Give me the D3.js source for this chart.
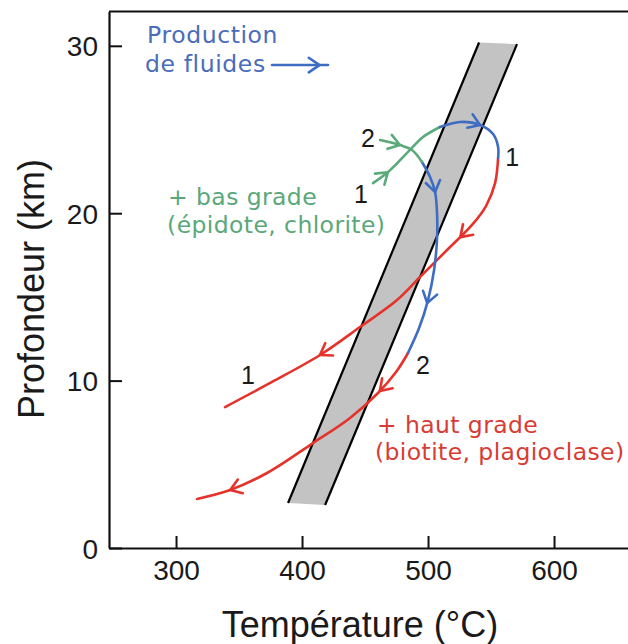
<!DOCTYPE html>
<html><head><meta charset="utf-8">
<script src="https://cdn.jsdelivr.net/npm/d3@7"></script>
<style>body{margin:0;background:#fff}svg{display:block}</style>
</head><body>
<svg id="c" width="628" height="644"></svg>
<script>
// ---------- data (Température °C, Profondeur km) ----------
const xTicks = [300, 400, 500, 600];
const yTicks = [0, 10, 20, 30];
const bandCorners = [[388.9, 2.69], [540.5, 30.2], [570.6, 30.1], [418.3, 2.57]];

const green1 = [[456.3, 21.80], [468.3, 22.46], [485.7, 23.78], [496.0, 24.55], [509.5, 25.15]];
const blue1  = [[509.5, 25.15], [525.4, 25.45], [541.3, 25.27], [551.6, 24.73], [555.6, 23.96], [555.6, 23.30]];
const red1   = [[555.6, 23.30], [553.2, 21.80], [546.0, 20.43], [534.9, 19.30], [515.1, 17.80], [495.2, 16.31],
                [475.4, 14.81], [446.0, 13.20], [414.3, 11.53], [376.2, 9.92], [338.9, 8.42]];
const green2 = [[461.9, 24.37], [477.8, 24.07], [487.3, 23.78], [495.2, 23.06]];
const blue2  = [[495.2, 23.06], [501.6, 22.16], [505.6, 21.27], [507.1, 20.07], [507.1, 18.40], [504.8, 16.61],
                [500.0, 14.81], [492.9, 13.14], [484.1, 11.65]];
const red2   = [[484.1, 11.65], [474.6, 10.51], [460.3, 9.26], [438.1, 7.77], [408.7, 6.27], [372.2, 4.48],
                [342.9, 3.46], [316.7, 2.93]];

// arrow anchors along each path
const green1Arrows = [[468.3, 22.46]];
const green2Arrows = [[477.8, 24.07]];
const blue1Arrows  = [[541.3, 25.27]];
const blue2Arrows  = [[505.6, 21.27], [499.2, 14.64]];
const red1Arrows   = [[525.4, 18.58], [414.3, 11.53]];
const red2Arrows   = [[461.9, 9.38], [342.9, 3.46]];

const legendArrow = [[376.2, 28.85], [420.6, 28.85]];

const numLabels = [
  {t: "2", p: [452.4, 24.49]}, {t: "1", p: [446.8, 21.15]}, {t: "1", p: [566.7, 23.36]},
  {t: "1", p: [357.1, 10.33]}, {t: "2", p: [496.0, 10.93]}
];
const notes = [
  {t: "Production", p: [277.0, 30.17], c: "blue"},
  {t: "de fluides", p: [275.4, 28.43], c: "blue"},
  {t: "+ bas grade", p: [293.7, 20.49], c: "green"},
  {t: "(épidote, chlorite)", p: [292.9, 18.82], c: "green"},
  {t: "+ haut grade", p: [459.5, 6.87], c: "red"},
  {t: "(biotite, plagioclase)", p: [457.9, 5.26], c: "red"}
];

// ---------- drawing ----------
const COL = {blue: "#3d6cc2", green: "#5aaa7a", red: "#e5332b"};
const TXT = {blue: "#4a6cba", green: "#5aa87a", red: "#d83b34"};
const svg = d3.select("#c");
const x = d3.scaleLinear().domain([246.8, 658.7]).range([109, 628]);
const y = d3.scaleLinear().domain([0, 32.05]).range([548, 11.5]);

// band
svg.append("path")
  .attr("d", d3.line().x(d => x(d[0])).y(d => y(d[1]))(bandCorners) + "Z")
  .attr("fill", "#c3c3c3").attr("stroke", "none");
[[bandCorners[0], bandCorners[1]], [bandCorners[3], bandCorners[2]]].forEach(s => {
  svg.append("line").attr("x1", x(s[0][0])).attr("y1", y(s[0][1]))
    .attr("x2", x(s[1][0])).attr("y2", y(s[1][1]))
    .attr("stroke", "#000").attr("stroke-width", 2.2);
});

const line = d3.line().x(d => x(d[0])).y(d => y(d[1])).curve(d3.curveCatmullRom.alpha(0.5));

function chevron(g, tip, ang, color) {
  const L = 13, a = 34 * Math.PI / 180;
  const p1 = [tip[0] - L * Math.cos(ang - a), tip[1] - L * Math.sin(ang - a)];
  const p2 = [tip[0] - L * Math.cos(ang + a), tip[1] - L * Math.sin(ang + a)];
  g.append("path").attr("d", `M${p1}L${tip}L${p2}`)
    .attr("fill", "none").attr("stroke", color).attr("stroke-width", 2.6)
    .attr("stroke-linecap", "round").attr("stroke-linejoin", "round");
}

function drawSeg(data, arrows, color) {
  const g = svg.append("g");
  const p = g.append("path").attr("d", line(data)).attr("fill", "none")
    .attr("stroke", color).attr("stroke-width", 2.6).attr("stroke-linecap", "round");
  const node = p.node(), L = node.getTotalLength();
  arrows.forEach(a => {
    const ax = x(a[0]), ay = y(a[1]);
    let best = 0, bd = 1e9;
    for (let l = 0; l <= L; l += 0.5) {
      const q = node.getPointAtLength(l);
      const d = (q.x - ax) ** 2 + (q.y - ay) ** 2;
      if (d < bd) { bd = d; best = l; }
    }
    const q0 = node.getPointAtLength(Math.max(0, best - 2));
    const q1 = node.getPointAtLength(Math.min(L, best + 2));
    const tip = node.getPointAtLength(best);
    chevron(g, [tip.x, tip.y], Math.atan2(q1.y - q0.y, q1.x - q0.x), color);
  });
}

drawSeg(red1, red1Arrows, COL.red);
drawSeg(red2, red2Arrows, COL.red);
drawSeg(blue2, blue2Arrows, COL.blue);
drawSeg(green2, green2Arrows, COL.green);
drawSeg(green1, green1Arrows, COL.green);
drawSeg(blue1, blue1Arrows, COL.blue);

// legend arrow
drawSeg(legendArrow, [[414.0, 28.85]], COL.blue);

// axes
const fontAx = "'Liberation Sans', Arial, sans-serif";
const xa = svg.append("g").attr("transform", "translate(0,548)")
  .call(d3.axisBottom(x).tickValues(xTicks).tickSizeInner(-12).tickSizeOuter(0).tickPadding(12));
const ya = svg.append("g").attr("transform", "translate(109,0)")
  .call(d3.axisLeft(y).tickValues(yTicks).tickSizeInner(-13).tickSizeOuter(0).tickPadding(11).tickFormat(d3.format("d")));
[xa, ya].forEach(a => {
  a.select(".domain").attr("stroke", "#111").attr("stroke-width", 2.2);
  a.selectAll(".tick line").attr("stroke", "#111").attr("stroke-width", 2);
  a.selectAll(".tick text").attr("font-family", fontAx).attr("font-size", 28).attr("fill", "#1a1a1a");
});
ya.selectAll(".tick text").attr("dy", "0.36em");
svg.append("line").attr("x1", 109).attr("x2", 628).attr("y1", y(32.05)).attr("y2", y(32.05))
  .attr("stroke", "#111").attr("stroke-width", 2.2);

svg.append("text").attr("x", 360).attr("y", 637).attr("text-anchor", "middle")
  .attr("font-family", fontAx).attr("font-size", 36).attr("fill", "#1a1a1a").text("Température (°C)");
svg.append("text").attr("transform", "translate(44,289) rotate(-90)").attr("text-anchor", "middle")
  .attr("font-family", fontAx).attr("font-size", 36).attr("fill", "#1a1a1a").text("Profondeur (km)");

// number labels
numLabels.forEach(n => {
  svg.append("text").attr("x", x(n.p[0])).attr("y", y(n.p[1])).attr("dy", "0.36em")
    .attr("text-anchor", "middle").attr("font-family", fontAx).attr("font-size", 25)
    .attr("fill", "#1a1a1a").text(n.t);
});

// notes
notes.forEach(n => {
  svg.append("text").attr("x", x(n.p[0])).attr("y", y(n.p[1]))
    .attr("font-family", "'DejaVu Sans', sans-serif").attr("font-size", n.c === "blue" ? 23.5 : 23.5)
    .attr("letter-spacing", n.c === "blue" ? 0.6 : 0.4)
    .attr("fill", TXT[n.c]).text(n.t);
});
</script>
</body></html>
